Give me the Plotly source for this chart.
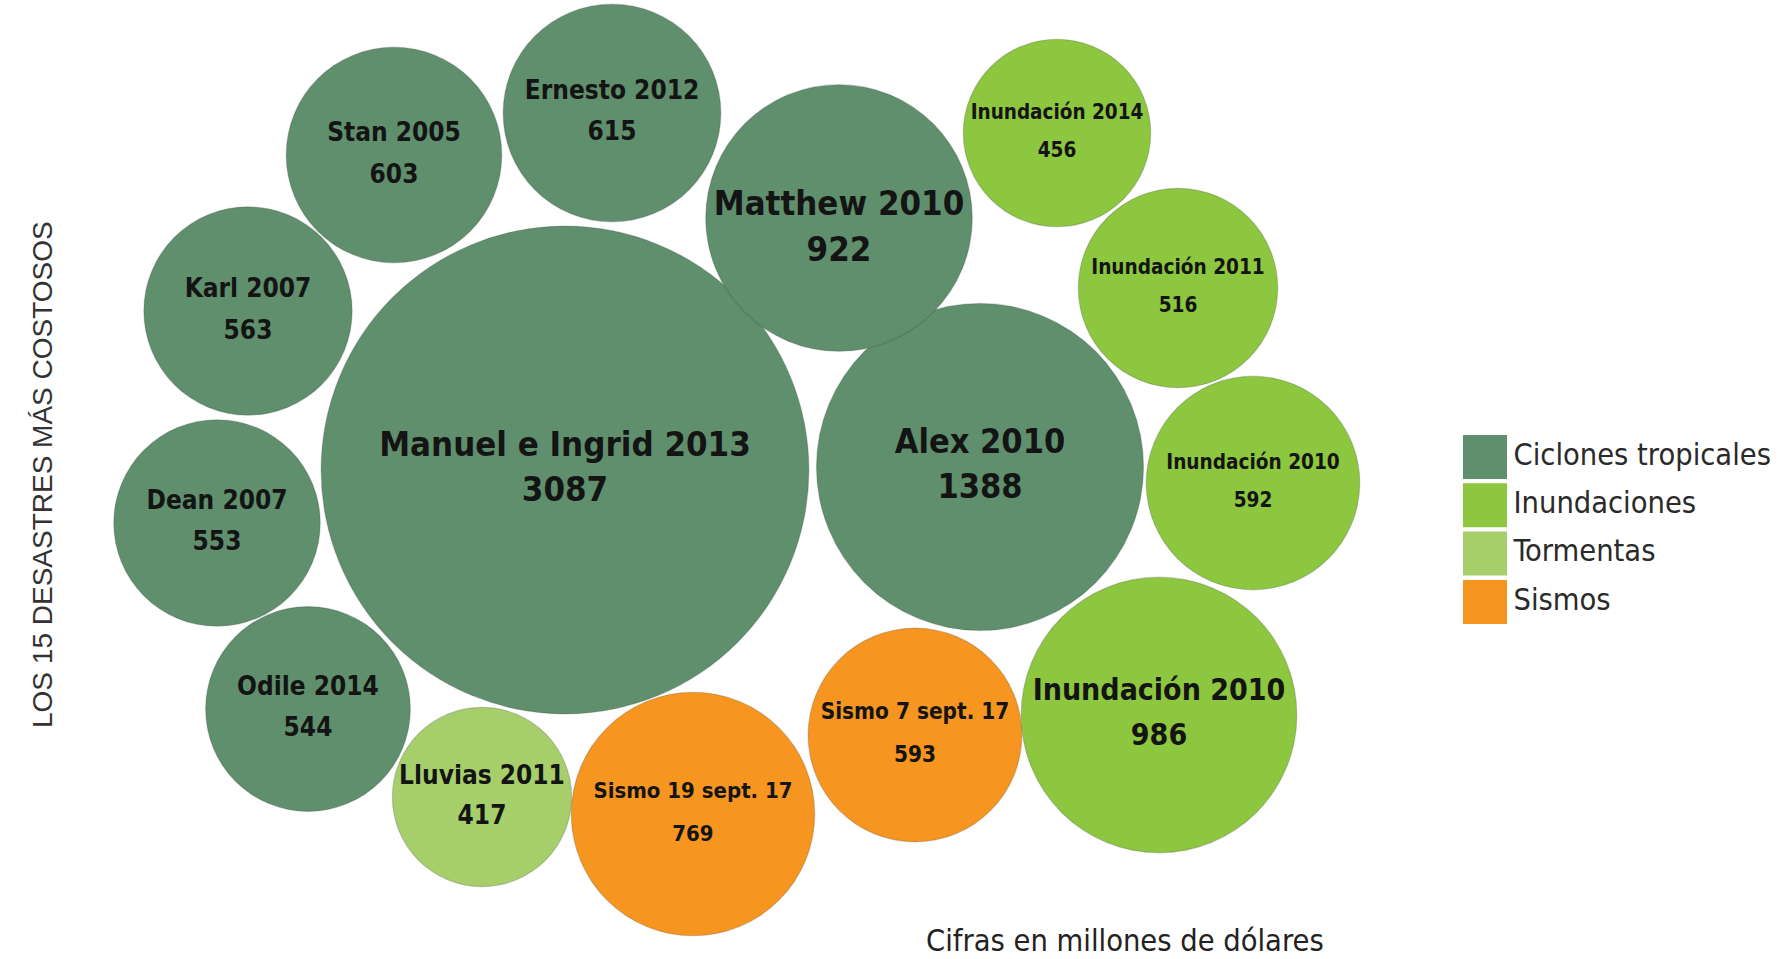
import plotly.graph_objects as go

# ---------------- data ----------------
names = ["Manuel e Ingrid 2013", "Alex 2010", "Matthew 2010", "Ernesto 2012", "Stan 2005",
         "Karl 2007", "Dean 2007", "Odile 2014", "Lluvias 2011", "Sismo 19 sept. 17",
         "Sismo 7 sept. 17", "Inundación 2010", "Inundación 2010", "Inundación 2011", "Inundación 2014"]
values = [3087, 1388, 922, 615, 603, 563, 553, 544, 417, 769, 593, 986, 592, 516, 456]
types = ["Ciclones tropicales"] * 8 + ["Tormentas", "Sismos", "Sismos",
                                       "Inundaciones", "Inundaciones", "Inundaciones", "Inundaciones"]
categories = ["Ciclones tropicales", "Inundaciones", "Tormentas", "Sismos"]

# ---------------- layout / style ----------------
colors = {"Ciclones tropicales": "#5f8f6c", "Inundaciones": "#8dc63f",
          "Tormentas": "#a6cf6c", "Sismos": "#f6951f"}
# bubble centres (pixel units of the plotting area)
cx = [565, 980, 839, 612, 394, 248, 217, 308, 482, 693, 915, 1159, 1253, 1178, 1057]
cy = [470, 467, 218, 113, 155, 311, 523, 709, 797, 814, 735, 715, 483, 288, 133]
label_size = [34.5, 34, 34.5, 26, 26, 26, 26, 26, 26, 22, 22.4, 30, 20.6, 20.6, 20.5]
label_gap = [45, 45, 46, 41, 42, 42, 41, 41, 40, 43, 43, 45, 38, 38, 38]
label_dy = [0, 0, 11, 0, 0, 0, 0, 0, 0, 0, 0, 0, 0, 0, 0]
PX_PER_SQRT = 4.39                      # bubble radius = 4.39 * sqrt(value)
sizeref = 1.0 / (2 * PX_PER_SQRT ** 2)  # plotly area mode: r = sqrt(v / (2*sizeref))

W, H = 1792, 959
label_font = "DejaVu Sans Condensed, DejaVu Sans, sans-serif"

fig = go.Figure()

fig.add_trace(go.Scatter(
    x=cx, y=cy, mode="markers",
    marker=dict(size=values, sizemode="area", sizeref=sizeref,
                color=[colors[t] for t in types], opacity=1,
                line=dict(width=1.2, color="rgba(60,60,60,0.22)")),
    hoverinfo="text", text=[f"{n}: {v}" for n, v in zip(names, values)],
    showlegend=False, cliponaxis=False,
))

# labels: name line and value line
fig.add_trace(go.Scatter(
    x=cx, y=[y + d - g / 2 for y, d, g in zip(cy, label_dy, label_gap)], mode="text",
    text=names, textposition="middle center",
    textfont=dict(family=label_font, size=label_size, color="#141414", weight="bold"),
    hoverinfo="skip", showlegend=False, cliponaxis=False,
))
fig.add_trace(go.Scatter(
    x=cx, y=[y + d + g / 2 for y, d, g in zip(cy, label_dy, label_gap)], mode="text",
    text=[str(v) for v in values], textposition="middle center",
    textfont=dict(family=label_font, size=label_size, color="#141414", weight="bold"),
    hoverinfo="skip", showlegend=False, cliponaxis=False,
))

# legend (large square swatches)
leg_x = 1485
leg_y0, leg_dy = 457, 48.3
fig.add_trace(go.Scatter(
    x=[leg_x] * len(categories), y=[leg_y0 + i * leg_dy for i in range(len(categories))],
    mode="markers+text", text=categories, textposition="middle right",
    marker=dict(symbol="square", size=44, color=[colors[c] for c in categories]),
    textfont=dict(family=label_font, size=30.5, color="#2a2a2a"),
    hoverinfo="skip", showlegend=False, cliponaxis=False,
))

fig.add_annotation(
    text="LOS 15 DESASTRES MÁS COSTOSOS", textangle=-90,
    xref="x", yref="y", x=42, y=475, showarrow=False,
    font=dict(family="Liberation Sans, Arial, sans-serif", size=28, color="#333333"),
)
fig.add_annotation(
    text="Cifras en millones de dólares",
    xref="x", yref="y", x=1125, y=940, showarrow=False,
    font=dict(family=label_font, size=30.5, color="#222222"),
)

fig.update_layout(
    width=W, height=H, autosize=False,
    margin=dict(l=0, r=0, t=0, b=0, pad=0),
    paper_bgcolor="white", plot_bgcolor="white",
    xaxis=dict(range=[0, W], visible=False, fixedrange=True),
    yaxis=dict(range=[H, 0], visible=False, fixedrange=True),
)

fig.write_html(
    "out.html",
    config={"displayModeBar": False},
    post_script="document.body.style.margin='0px';document.body.style.overflow='hidden';",
)
